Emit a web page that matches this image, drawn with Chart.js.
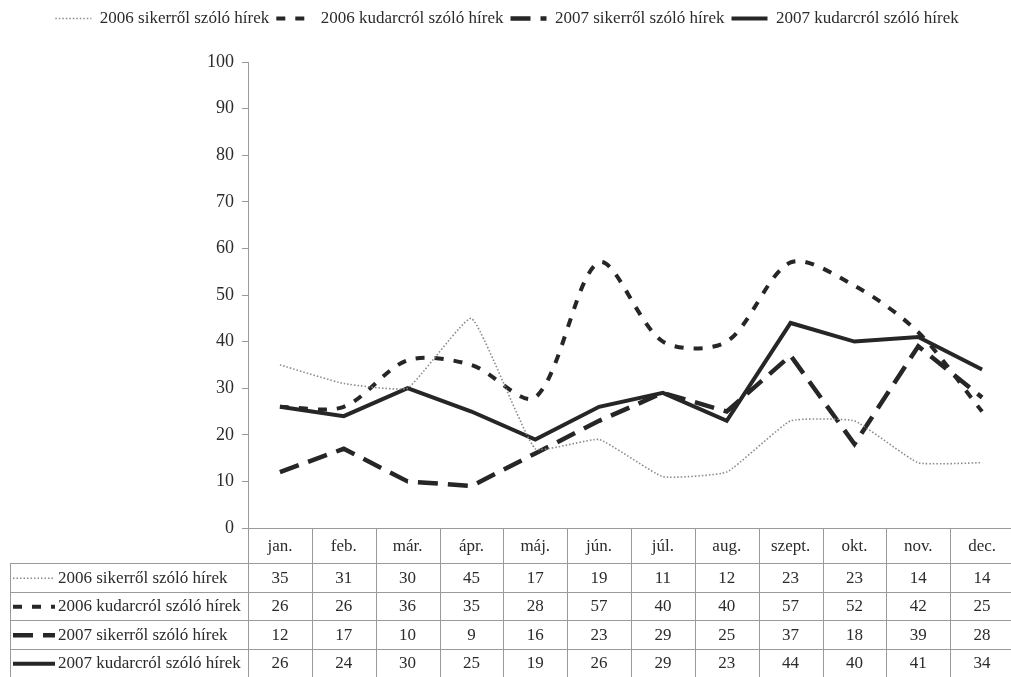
<!DOCTYPE html>
<html>
<head>
<meta charset="utf-8">
<script src="https://cdn.jsdelivr.net/npm/chart.js@4.4.1/dist/chart.umd.min.js"></script>
<style>
html,body{margin:0;padding:0;background:#fff;overflow:hidden;}
#wrap{width:1014px;height:677px;}
</style>
</head>
<body>
<div id="wrap"><canvas id="c"></canvas></div>
<script>
/* hírek havonta: 2006 vs 2007 */
const months = ["jan.","feb.","már.","ápr.","máj.","jún.","júl.","aug.","szept.","okt.","nov.","dec."];
const names = ["2006 sikerről szóló hírek","2006 kudarcról szóló hírek","2007 sikerről szóló hírek","2007 kudarcról szóló hírek"];
const siker2006 = [35,31,30,45,17,19,11,12,23,23,14,14];
const kudar2006 = [26,26,36,35,28,57,40,40,57,52,42,25];
const siker2007 = [12,17,10,9,16,23,29,25,37,18,39,28];
const kudar2007 = [26,24,30,25,19,26,29,23,44,40,41,34];

const FONT = "'Liberation Serif','Times New Roman',serif";
const TXT = "#2b2b2b";
const GRID = "#9a9a9a";

Chart.defaults.font.family = FONT;
Chart.defaults.font.size = 17;
Chart.defaults.color = TXT;

const datasets = [
  {label:names[0], data:siker2006, borderColor:"#8a8a8a", borderWidth:1.6, borderDash:[1.5,2], tension:0.12},
  {label:names[1], data:kudar2006, borderColor:"#262626", borderWidth:4, borderDash:[9,10], tension:0.3},
  {label:names[2], data:siker2007, borderColor:"#262626", borderWidth:4.5, borderDash:[20,10], tension:0},
  {label:names[3], data:kudar2007, borderColor:"#262626", borderWidth:4, borderDash:[], tension:0}
].map(d=>Object.assign(d,{fill:false, pointRadius:0, pointHoverRadius:0, borderCapStyle:"butt"}));

// extra room under the legend
const legendGap = {
  id:"legendGap",
  beforeInit(chart){
    if(!chart.legend) return;
    const fit = chart.legend.fit;
    chart.legend.fit = function(){ fit.bind(chart.legend)(); this.height += 25; };
  }
};

// data table under the plot
const dataTable = {
  id:"dataTable",
  afterDraw(chart){
    const {ctx, chartArea:a} = chart;
    const top = a.bottom, headB = top + 35, rowH = 28.5, labL = 10;
    const colW = (a.right - a.left) / months.length;
    const bottom = headB + rowH * names.length;
    ctx.save();
    ctx.strokeStyle = GRID; ctx.lineWidth = 1;
    ctx.beginPath();
    ctx.moveTo(a.left, top + 0.5); ctx.lineTo(a.right, top + 0.5);
    for(let r=0;r<names.length;r++){
      const y = Math.round(headB + r*rowH) + 0.5;
      ctx.moveTo(labL, y); ctx.lineTo(a.right, y);
    }
    for(let i=0;i<=months.length;i++){
      const x = Math.round(a.left + i*colW) + 0.5;
      ctx.moveTo(x, top); ctx.lineTo(x, bottom);
    }
    ctx.moveTo(labL + 0.5, headB); ctx.lineTo(labL + 0.5, bottom);
    ctx.stroke();

    ctx.fillStyle = TXT;
    ctx.font = "17px " + FONT;
    ctx.textAlign = "center"; ctx.textBaseline = "middle";
    months.forEach((m,i)=>ctx.fillText(m, a.left + (i+0.5)*colW, (top + headB)/2 + 1));

    chart.data.datasets.forEach((ds,r)=>{
      const cy = headB + (r+0.5)*rowH + 1;
      ctx.save();
      ctx.strokeStyle = ds.borderColor; ctx.lineWidth = ds.borderWidth;
      ctx.setLineDash(ds.borderDash || []);
      ctx.beginPath(); ctx.moveTo(labL + 3, cy); ctx.lineTo(labL + 45, cy); ctx.stroke();
      ctx.restore();
      ctx.textAlign = "left";
      ctx.fillText(ds.label, labL + 48, cy);
      ctx.textAlign = "center";
      ds.data.forEach((v,i)=>ctx.fillText(String(v), a.left + (i+0.5)*colW, cy));
    });
    ctx.restore();
  }
};

new Chart(document.getElementById("c"), {
  type:"line",
  data:{labels:months, datasets},
  plugins:[legendGap, dataTable],
  options:{
    responsive:true,
    maintainAspectRatio:false,
    animation:false,
    layout:{padding:{top:3, left:0, right:0, bottom:0}},
    plugins:{
      legend:{
        position:"top",
        labels:{
          usePointStyle:true,
          pointStyleWidth:36,
          padding:7,
          color:TXT,
          font:{size:17, family:FONT},
          generateLabels(chart){
            return chart.data.datasets.map((ds,i)=>({
              text:ds.label, fillStyle:"rgba(0,0,0,0)", strokeStyle:ds.borderColor,
              lineWidth:ds.borderWidth, lineDash:ds.borderDash, pointStyle:"line",
              fontColor:TXT, datasetIndex:i, hidden:false
            }));
          }
        }
      },
      tooltip:{enabled:false}
    },
    scales:{
      x:{
        type:"category",
        offset:true,
        grid:{display:false},
        border:{display:false},
        ticks:{display:false},
        afterFit(s){ s.height = 149; }
      },
      y:{
        min:0, max:100,
        ticks:{stepSize:10, color:TXT, padding:8, font:{size:18, family:FONT}},
        grid:{drawOnChartArea:false, drawTicks:true, tickLength:6, color:GRID},
        border:{color:GRID},
        afterFit(s){ s.width = 248; }
      }
    }
  }
});
</script>
</body>
</html>
